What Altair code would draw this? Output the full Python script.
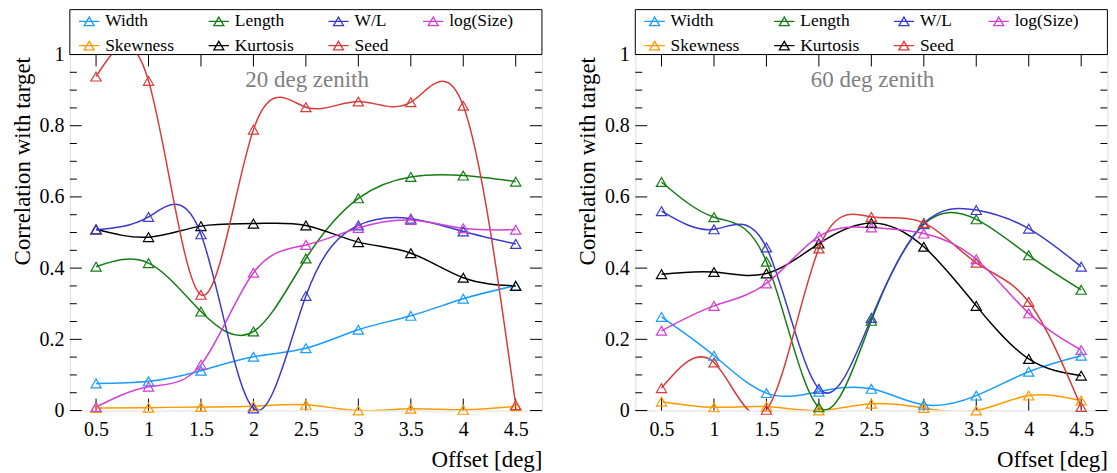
import altair as alt
import pandas as pd

# ---------------- data ----------------
offsets = [0.5, 1.0, 1.5, 2.0, 2.5, 3.0, 3.5, 4.0, 4.5]
# legend is filled column by column (2 rows x 4 columns)
variables = ["Width", "Skewness", "Length", "Kurtosis", "W/L", "Seed", "log(Size)"]
colors = ["#1a9cff", "#ff9a00", "#137d13", "#000000", "#3a3ad0", "#d93a3a", "#d23fd2"]
panel_labels = ["20 deg zenith", "60 deg zenith"]

# 20 deg zenith
width_20 = [0.076, 0.082, 0.112, 0.151, 0.175, 0.227, 0.266, 0.314, 0.351]
length_20 = [0.404, 0.414, 0.278, 0.222, 0.427, 0.596, 0.656, 0.660, 0.643]
wl_20 = [0.508, 0.544, 0.495, 0.006, 0.322, 0.520, 0.539, 0.503, 0.468]
logsize_20 = [0.010, 0.067, 0.129, 0.387, 0.465, 0.513, 0.535, 0.512, 0.508]
skew_20 = [0.007, 0.008, 0.010, 0.012, 0.016, 0.000, 0.005, 0.002, 0.012]
kurt_20 = [0.509, 0.487, 0.518, 0.525, 0.520, 0.473, 0.442, 0.373, 0.350]
seed_20 = [0.938, 0.926, 0.325, 0.789, 0.852, 0.868, 0.866, 0.856, 0.015]

# 60 deg zenith
width_60 = [0.263, 0.154, 0.049, 0.053, 0.061, 0.016, 0.042, 0.109, 0.154]
length_60 = [0.642, 0.543, 0.418, 0.009, 0.252, 0.523, 0.537, 0.436, 0.339]
wl_60 = [0.560, 0.509, 0.458, 0.061, 0.260, 0.525, 0.563, 0.511, 0.404]
logsize_60 = [0.224, 0.294, 0.357, 0.489, 0.514, 0.497, 0.425, 0.273, 0.170]
skew_60 = [0.025, 0.009, 0.011, 0.000, 0.019, 0.007, 0.000, 0.042, 0.028]
kurt_60 = [0.383, 0.389, 0.385, 0.469, 0.527, 0.460, 0.294, 0.145, 0.098]
seed_60 = [0.063, 0.135, 0.002, 0.455, 0.544, 0.527, 0.415, 0.305, 0.010]

# axis ticks
x_ticks = offsets
y_major = [0.0, 0.2, 0.4, 0.6, 0.8, 1.0]
y_minor = [0.05, 0.10, 0.15, 0.25, 0.30, 0.35, 0.45, 0.50, 0.55,
           0.65, 0.70, 0.75, 0.85, 0.90, 0.95]

W = 473.4
H = 357
FONT = "'Liberation Serif', 'Times New Roman', Times, serif"

sets = [
    {"Width": width_20, "Length": length_20, "W/L": wl_20, "log(Size)": logsize_20,
     "Skewness": skew_20, "Kurtosis": kurt_20, "Seed": seed_20},
    {"Width": width_60, "Length": length_60, "W/L": wl_60, "log(Size)": logsize_60,
     "Skewness": skew_60, "Kurtosis": kurt_60, "Seed": seed_60},
]

legend_symbol = "M-1,0H1M0,-0.42L0.49,0.42L-0.49,0.42Z"


def panel(values, label):
    rows = []
    for name in variables:
        for x, v in zip(offsets, values[name]):
            rows.append({"offset": x, "value": v, "var": name})
    df = pd.DataFrame(rows)

    xscale = alt.Scale(domain=[0.25, 4.75], nice=False, zero=False)
    yscale = alt.Scale(domain=[0, 1], nice=False, zero=False)
    X = alt.X("offset:Q", scale=xscale,
              axis=alt.Axis(values=offsets, format="~g", ticks=False, tickSize=0,
                            domain=False, grid=False, labelFontSize=20,
                            labelPadding=9, labelFont=FONT, labelColor="black",
                            title="Offset [deg]", titleFont=FONT, titleFontSize=23,
                            titleFontWeight="normal", titleColor="black",
                            titleX=W, titleY=56, titleAlign="right",
                            titleBaseline="alphabetic"))
    Y = alt.Y("value:Q", scale=yscale,
              axis=alt.Axis(values=y_major, format="~g", ticks=False, tickSize=0,
                            domain=False, grid=False, labelFontSize=20,
                            labelPadding=6, labelFont=FONT, labelColor="black",
                            title="Correlation with target", titleFont=FONT,
                            titleFontSize=23, titleFontWeight="normal",
                            titleColor="black", titleAngle=270, titleX=-47.5,
                            titleY=2, titleAlign="right", titleBaseline="middle"))
    legend = alt.Legend(orient="none", legendX=8.4, legendY=-44.5, columns=4,
                        columnPadding=31, rowPadding=4.6, symbolType=legend_symbol,
                        symbolSize=416, symbolStrokeWidth=1.3,
                        symbolFillColor="transparent", labelFont=FONT,
                        labelFontSize=17.5, labelOffset=5, labelColor="black",
                        title=None, padding=0, symbolLimit=0)
    color = alt.Color("var:N", scale=alt.Scale(domain=variables, range=colors),
                      legend=legend, sort=variables)

    box = alt.Chart(pd.DataFrame({"a": [0]})).mark_rect(
        fill="white", stroke="black", strokeWidth=1, clip=False
    ).encode(x=alt.value(0), x2=alt.value(W), y=alt.value(-45), y2=alt.value(0))

    dfx = pd.DataFrame({"offset": x_ticks})
    dfy = pd.DataFrame({"value": y_major})
    dfym = pd.DataFrame({"value": y_minor})
    rk = dict(color="black", strokeWidth=1)
    t_bot = alt.Chart(dfx).mark_rule(**rk).encode(x=X, y=alt.value(H), y2=alt.value(H - 12))
    t_top = alt.Chart(dfx).mark_rule(**rk).encode(x=X, y=alt.value(0), y2=alt.value(12))
    t_l = alt.Chart(dfy).mark_rule(**rk).encode(y=Y, x=alt.value(0), x2=alt.value(12))
    t_r = alt.Chart(dfy).mark_rule(**rk).encode(y=Y, x=alt.value(W), x2=alt.value(W - 12))
    t_lm = alt.Chart(dfym).mark_rule(**rk).encode(y=Y, x=alt.value(0), x2=alt.value(7))
    t_rm = alt.Chart(dfym).mark_rule(**rk).encode(y=Y, x=alt.value(W), x2=alt.value(W - 7))

    base = alt.Chart(df)
    lines = base.mark_line(interpolate="natural", strokeWidth=1.5, clip=True).encode(
        x=X, y=Y, color=color, detail="var:N")
    points = base.mark_point(shape="triangle-up", size=105, filled=False,
                             strokeWidth=1.2, clip=False, opacity=1).encode(
        x=X, y=Y, color=color)

    txt = alt.Chart(pd.DataFrame({"label": [label]})).mark_text(
        font=FONT, fontSize=23, color="#808080", align="left", baseline="alphabetic"
    ).encode(text="label:N", x=alt.value(176), y=alt.value(33))

    return alt.layer(box, t_bot, t_top, t_l, t_r, t_lm, t_rm, lines, points, txt).properties(
        width=W, height=H)


chart = alt.hconcat(
    panel(sets[0], panel_labels[0]), panel(sets[1], panel_labels[1]), spacing=33
).resolve_legend(color="independent").properties(
    padding={"left": 3, "top": 0, "right": 0, "bottom": 0}
).configure_view(stroke="black", strokeWidth=1).configure(font=FONT)

chart.save("out.html", embed_options={"renderer": "svg", "actions": False})
